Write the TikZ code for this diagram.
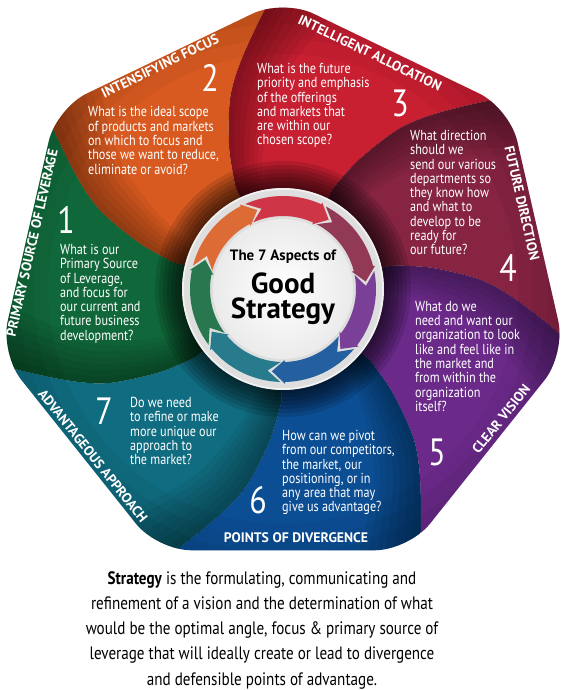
\documentclass[tikz,border=0pt]{standalone}
\usepackage{fontspec}
\setmainfont{PT Sans}[FakeStretch=0.84]
\newfontfamily\widefont{PT Sans}

\definecolor{segred}{HTML}{C81F31}
\definecolor{segorange}{HTML}{D85A20}
\definecolor{seggreen}{HTML}{10683A}
\definecolor{segteal}{HTML}{106C80}
\definecolor{segblue}{HTML}{0C4E94}
\definecolor{segpurple}{HTML}{6B2A8A}
\definecolor{segmaroon}{HTML}{862442}
\colorlet{ringgrey}{black!13}

\tikzstyle{segtext} = [text=white, align=left, anchor=north west,
    inner sep=0pt, font=\fontsize{14.5}{14.3}\selectfont]
\tikzstyle{edgelabel} = [text=white, inner sep=0pt,
    font=\widefont\bfseries\fontsize{13.8}{13.8}\selectfont]
\tikzstyle{bignum} = [text=white, inner sep=0pt,
    font=\fontsize{38}{38}\selectfont]
\tikzstyle{midtext} = [text=black, inner sep=0pt]

% one swirl piece between two corners of the heptagon
\newcommand{\swirlpart}[3]{
  \fill[#1] (0,0) -- plot[smooth] coordinates {({#2+25}:112) ({#2+21}:150)
      ({#2+15.5}:198) ({#2+10}:235) ({#2+2.5}:290) ({#2-3}:330)}
    arc[start angle={#2-3}, end angle={#3-3}, radius=330]
    -- plot[smooth] coordinates {({#3-3}:330) ({#3+2.5}:290) ({#3+10}:235)
      ({#3+15.5}:198) ({#3+21}:150) ({#3+25}:112)} -- cycle;
}
% one arrow of the ring, centred on angle #1
\newcommand{\ringarrow}[2]{
  \fill[#2] ({#1+24}:93) arc[start angle={#1+24}, end angle={#1-24.4}, radius=93]
    -- ({#1-24.4}:95) -- ({#1-33.4}:83) -- ({#1-24.4}:71) -- ({#1-24.4}:73)
    arc[start angle={#1-24.4}, end angle={#1+24}, radius=73]
    -- ({#1+15}:83) -- cycle;
}

\begin{document}
\begin{tikzpicture}[x=1pt, y=1pt]
\useasboundingbox (-283,-401) rectangle (281,289);

\begin{scope}
\clip[rounded corners=34pt] (90:290) -- (141.43:290) -- (192.86:290)
  -- (244.29:290) -- (295.71:290) -- (347.14:290) -- (38.57:290) -- cycle;

\foreach \k/\col in {0/segred,1/segorange,2/seggreen,3/segteal,
    4/segblue,5/segpurple,6/segmaroon}{
  \pgfmathsetmacro{\va}{90+\k*360/7}
  \pgfmathsetmacro{\vb}{\va-360/7}
  \swirlpart{\col}{\va}{\vb}
}

% shadow along each fold
\foreach \k in {0,...,6}{
  \pgfmathsetmacro{\va}{90+\k*360/7}
  \foreach \o in {2,4,...,14}{
    \pgfmathsetmacro{\vb}{\va-\o}
    \swirlpart{black, opacity=0.05}{\va}{\vb}
  }
}
\foreach \r in {280,265,250,235}
  \fill[black, opacity=0.04, even odd rule] (0,0) circle (340) circle (\r);

\foreach \r in {128,124,...,104}
  \fill[black, opacity=0.12] (0,0) circle (\r);
\fill[ringgrey] (0,0) circle (101);
\draw[black!5, line width=1.5pt] (0,0) circle (100);
\shade[inner color=white, outer color=black!8] (0,0) circle (70);

\foreach \k/\col in {0/segred,1/segorange,2/seggreen,3/segteal,
    4/segblue,5/segpurple,6/segmaroon}{
  \pgfmathsetmacro{\va}{90+\k*360/7}
  \ringarrow{\va}{\col!90!white}
}
\end{scope}

\node[midtext, font=\widefont\bfseries\fontsize{15}{15}\selectfont] (aspects) at (0,32) {The 7 Aspects of};
\node[midtext, font=\widefont\bfseries\fontsize{29}{29}\selectfont] (good) at (0,6) {Good};
\node[midtext, font=\widefont\bfseries\fontsize{29}{29}\selectfont] (strategy) at (0,-22) {Strategy};

\node[segtext] (t1) at (-223,45) {What is our\\Primary Source\\of Leverage,\\and focus for\\our current and\\future business\\development?};
\node[segtext] (t2) at (-195,182.5) {What is the ideal scope\\of products and markets\\on which to focus and\\those we want to reduce,\\eliminate or avoid?};
\node[segtext] (t3) at (-26,226) {What is the future\\priority and emphasis\\of the offerings\\and markets that\\are within our\\chosen scope?};
\node[segtext] (t4) at (127,159) {What direction\\should we\\send our various\\departments so\\they know how\\and what to\\develop to be\\ready for\\our future?};
\node[segtext] (t5) at (132,-12) {What do we\\need and want our\\organization to look\\like and feel like in\\the market and\\from within the\\organization\\itself?};
\node[segtext] (t6) at (-1,-141) {How can we pivot\\from our competitors,\\the market, our\\positioning, or in\\any area that may\\give us advantage?};
\node[segtext] (t7) at (-153,-108) {Do we need\\to refine or make\\more unique our\\approach to\\the market?};

\node[bignum] (n1) at (-217,69) {1};
\node[bignum] (n2) at (-73,211) {2};
\node[bignum] (n3) at (117,186) {3};
\node[bignum] (n4) at (225,21) {4};
\node[bignum] (n5) at (154,-163) {5};
\node[bignum] (n6) at (-25,-211) {6};
\node[bignum] (n7) at (-179,-122) {7};

\node[edgelabel, rotate=77.14] (e1) at (-251,46) {PRIMARY SOURCE OF LEVERAGE};
\node[edgelabel, rotate=25.71] (e2) at (-123,223) {INTENSIFYING FOCUS};
\node[edgelabel, rotate=-25.71] (e3) at (87,236) {INTELLIGENT ALLOCATION};
\node[edgelabel, rotate=-77.14] (e4) at (239,86) {FUTURE DIRECTION};
\node[edgelabel, rotate=51.43] (e5) at (218,-130) {CLEAR VISION};
\node[edgelabel] (e6) at (13,-249) {POINTS OF DIVERGENCE};
\node[edgelabel, rotate=-51.43] (e7) at (-190,-167) {ADVANTAGEOUS APPROACH};

\node[align=center, anchor=north, inner sep=0pt,
  font=\fontsize{18}{25.3}\selectfont] (def) at (-21,-282)
  {\textbf{Strategy} is the formulating, communicating and\\
   refinement of a vision and the determination of what\\
   would be the optimal angle, focus \& primary source of\\
   leverage that will ideally create or lead to divergence\\
   and defensible points of advantage.};

\end{tikzpicture}
\end{document}
